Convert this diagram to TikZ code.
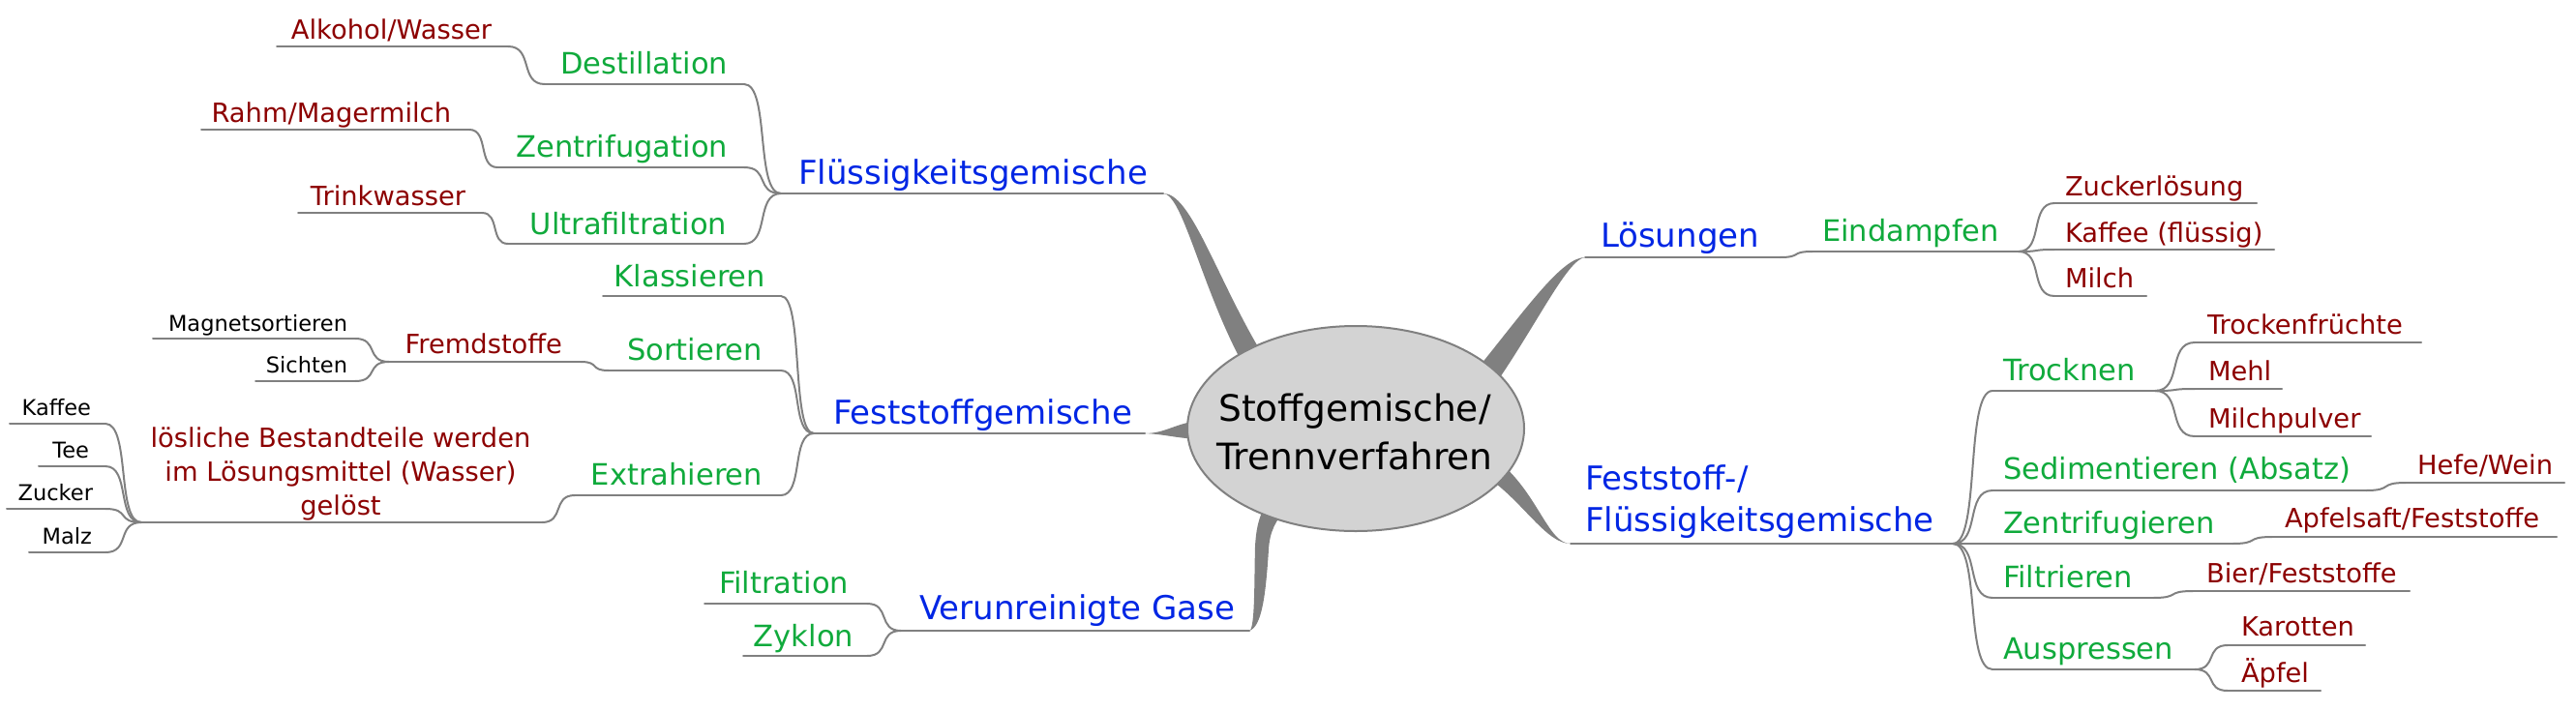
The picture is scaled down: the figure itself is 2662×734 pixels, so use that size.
\documentclass[tikz,border=0pt]{standalone}
\usepackage{fontspec}
\setmainfont{DejaVu Sans}
\usetikzlibrary{calc,shapes.geometric}
\pgfdeclarelayer{background}
\pgfsetlayers{background,main}
\definecolor{mmblue}{RGB}{0,38,228}
\definecolor{mmgreen}{RGB}{16,170,60}
\definecolor{mmred}{RGB}{140,0,0}
\definecolor{linegray}{RGB}{128,128,128}
\definecolor{branchgray}{RGB}{128,128,128}
\definecolor{rootfill}{RGB}{211,211,211}
\tikzset{
  thinline/.style={draw=linegray, line width=2pt, line cap=round},
  tlev1/.style={font=\fontsize{34}{43}\selectfont, text=mmblue, inner sep=0pt, outer sep=0pt},
  tlev2/.style={font=\fontsize{30.5}{38}\selectfont, text=mmgreen, inner sep=0pt, outer sep=0pt},
  tlev3/.style={font=\fontsize{27.3}{35}\selectfont, text=mmred, inner sep=0pt, outer sep=0pt},
  tlev4/.style={font=\fontsize{22.5}{28}\selectfont, text=black, inner sep=0pt, outer sep=0pt},
  branch/.style={fill=branchgray, draw=none},
  rootshape/.style={ellipse, draw=linegray, line width=2pt, fill=rootfill, minimum width=348pt, minimum height=212pt, inner sep=0pt},
  roottext/.style={font=\fontsize{37.6}{50}\selectfont, text=black, align=center, inner sep=0pt},
}
% left-side item: name, style, text right x, baseline y, line left x, line right x, line y, text
\newcommand{\mmL}[8]{%
  \node[#2, anchor=base east] (#1) at (#3,#4) {#8};
  \coordinate (#1-l) at (#5,#7);
  \coordinate (#1-r) at (#6,#7);
  \draw[thinline] (#1-l) -- (#1-r);}
% right-side item: name, style, text left x, baseline y, line left x, line right x, line y, text
\newcommand{\mmR}[8]{%
  \node[#2, anchor=base west] (#1) at (#3,#4) {#8};
  \coordinate (#1-l) at (#5,#7);
  \coordinate (#1-r) at (#6,#7);
  \draw[thinline] (#1-l) -- (#1-r);}
\newcommand{\mmlink}[2]{%
  \draw[thinline] let \p1=(#1), \p2=(#2) in
    (\p1) .. controls ({0.3*\x1+0.7*\x2},{\y1}) and ({0.7*\x1+0.3*\x2},{\y2}) .. (\p2);}

\begin{document}
\begin{tikzpicture}[x=1pt,y=-1pt]
\useasboundingbox (0,0) rectangle (2662,734);

% ---------- Flüssigkeitsgemische ----------
\mmL{flu}{tlev1}{1186}{190}{807}{1202}{200}{Flüssigkeitsgemische}
\mmL{dest}{tlev2}{752}{76}{563}{769}{87}{Destillation}
\mmL{alk}{tlev3}{508}{40}{286}{525}{48}{Alkohol/Wasser}
\mmL{zent}{tlev2}{752}{162}{514}{769}{173}{Zentrifugation}
\mmL{rahm}{tlev3}{466}{126}{208}{485}{134}{Rahm/Magermilch}
\mmL{ultra}{tlev2}{751}{242}{525}{769}{252}{Ultrafiltration}
\mmL{trink}{tlev3}{481}{212}{308}{498}{220}{Trinkwasser}
\mmlink{flu-l}{dest-r}
\mmlink{flu-l}{zent-r}
\mmlink{flu-l}{ultra-r}
\mmlink{dest-l}{alk-r}
\mmlink{zent-l}{rahm-r}
\mmlink{ultra-l}{trink-r}

% ---------- Feststoffgemische ----------
\mmL{fest}{tlev1}{1170}{438}{841}{1183}{448}{Feststoffgemische}
\mmL{klass}{tlev2}{791}{296}{623}{807}{306}{Klassieren}
\mmL{sort}{tlev2}{788}{372}{629}{807}{383}{Sortieren}
\mmL{fremd}{tlev3}{581}{365}{402}{600}{374}{Fremdstoffe}
\mmL{magn}{tlev4}{359}{342}{158}{367}{350}{Magnetsortieren}
\mmL{sicht}{tlev4}{359}{385}{264}{367}{394}{Sichten}
\mmL{extr}{tlev2}{788}{501}{594}{807}{512}{Extrahieren}
\node[tlev3, align=center, anchor=north] (lsl) at (352,442) {lösliche Bestandteile werden\\im Lösungsmittel (Wasser)\\gelöst};
\coordinate (lsl-l) at (146,540);
\coordinate (lsl-r) at (560,540);
\draw[thinline] (lsl-l) -- (lsl-r);
\mmL{kaf}{tlev4}{94}{429}{10}{109}{438}{Kaffee}
\mmL{tee}{tlev4}{92}{473}{40}{109}{482}{Tee}
\mmL{zuck}{tlev4}{96}{517}{7}{109}{526}{Zucker}
\mmL{malz}{tlev4}{95}{562}{30}{109}{571}{Malz}
\mmlink{fest-l}{klass-r}
\mmlink{fest-l}{sort-r}
\mmlink{fest-l}{extr-r}
\mmlink{sort-l}{fremd-r}
\mmlink{fremd-l}{magn-r}
\mmlink{fremd-l}{sicht-r}
\mmlink{extr-l}{lsl-r}
\mmlink{lsl-l}{kaf-r}
\mmlink{lsl-l}{tee-r}
\mmlink{lsl-l}{zuck-r}
\mmlink{lsl-l}{malz-r}

% ---------- Verunreinigte Gase ----------
\mmL{gase}{tlev1}{1276}{640}{931}{1291}{652}{Verunreinigte Gase}
\mmL{filt}{tlev2}{877}{613}{728}{896}{624}{Filtration}
\mmL{zykl}{tlev2}{882}{668}{768}{896}{678}{Zyklon}
\mmlink{gase-l}{filt-r}
\mmlink{gase-l}{zykl-r}

% ---------- Lösungen ----------
\mmR{loes}{tlev1}{1654}{255}{1638}{1839}{266}{Lösungen}
\mmR{eind}{tlev2}{1883}{249}{1873}{2086}{260}{Eindampfen}
\mmR{zl}{tlev3}{2134}{202}{2123}{2332}{210}{Zuckerlösung}
\mmR{kfl}{tlev3}{2134}{250}{2123}{2350}{258}{Kaffee (flüssig)}
\mmR{milch}{tlev3}{2134}{297}{2123}{2218}{306}{Milch}
\mmlink{loes-r}{eind-l}
\mmlink{eind-r}{zl-l}
\mmlink{eind-r}{kfl-l}
\mmlink{eind-r}{milch-l}

% ---------- Feststoff-/Flüssigkeitsgemische ----------
\node[tlev1, align=left, anchor=north west] (ffg) at (1638,481) {Feststoff-/\\Flüssigkeitsgemische};
\coordinate (ffg-l) at (1623,562);
\coordinate (ffg-r) at (2018,562);
\draw[thinline] (ffg-l) -- (ffg-r);
\mmR{trock}{tlev2}{2070}{393}{2059}{2227}{404}{Trocknen}
\mmR{tfr}{tlev3}{2281}{345}{2268}{2502}{354}{Trockenfrüchte}
\mmR{mehl}{tlev3}{2282}{393}{2268}{2358}{402}{Mehl}
\mmR{mpul}{tlev3}{2282}{442}{2268}{2450}{451}{Milchpulver}
\mmR{sed}{tlev2}{2070}{495}{2059}{2445}{507}{Sedimentieren (Absatz)}
\mmR{hefe}{tlev3}{2498}{490}{2486}{2650}{499}{Hefe/Wein}
\mmR{zfg}{tlev2}{2070}{551}{2059}{2307}{562}{Zentrifugieren}
\mmR{apf}{tlev3}{2361}{545}{2348}{2642}{555}{Apfelsaft/Feststoffe}
\mmR{filtr}{tlev2}{2070}{607}{2059}{2225}{618}{Filtrieren}
\mmR{bier}{tlev3}{2280}{602}{2266}{2490}{611}{Bier/Feststoffe}
\mmR{ausp}{tlev2}{2070}{681}{2059}{2268}{692}{Auspressen}
\mmR{karo}{tlev3}{2316}{657}{2302}{2444}{667}{Karotten}
\mmR{aepf}{tlev3}{2316}{705}{2302}{2398}{714}{Äpfel}
\mmlink{ffg-r}{trock-l}
\mmlink{ffg-r}{sed-l}
\mmlink{ffg-r}{zfg-l}
\mmlink{ffg-r}{filtr-l}
\mmlink{ffg-r}{ausp-l}
\mmlink{trock-r}{tfr-l}
\mmlink{trock-r}{mehl-l}
\mmlink{trock-r}{mpul-l}
\mmlink{sed-r}{hefe-l}
\mmlink{zfg-r}{apf-l}
\mmlink{filtr-r}{bier-l}
\mmlink{ausp-r}{karo-l}
\mmlink{ausp-r}{aepf-l}

% ---------- root ----------
\node[rootshape] (root) at (1401,443) {};
\node[roottext] (rootlabel) at (1400,446) {Stoffgemische/\\Trennverfahren};

% ---------- tapered main branches ----------
\begin{pgfonlayer}{background}
\fill[branch] (flu-r) .. controls (1222,201) and (1240,292) .. (1282,372)
  -- (1302,362) .. controls (1256,284) and (1230,199) .. (flu-r) -- cycle;
\fill[branch] (loes-l) .. controls (1614,266) and (1578,318) .. (1526,382)
  -- (1546,396) .. controls (1590,332) and (1620,268) .. (loes-l) -- cycle;
\fill[branch] (fest-r) .. controls (1205,448) and (1215,437) .. (1240,435)
  -- (1240,454) .. controls (1215,453) and (1205,449) .. (fest-r) -- cycle;
\fill[branch] (gase-r) .. controls (1297,651) and (1296,600) .. (1297,565)
  .. controls (1298,548) and (1300,538) .. (1306,525) -- (1330,525)
  .. controls (1318,538) and (1312,550) .. (1311,568)
  .. controls (1308,615) and (1304,648) .. (gase-r) -- cycle;
\fill[branch] (ffg-l) .. controls (1600,562) and (1590,512) .. (1550,478)
  -- (1538,494) .. controls (1575,520) and (1598,562) .. (ffg-l) -- cycle;
\end{pgfonlayer}
\end{tikzpicture}
\end{document}
